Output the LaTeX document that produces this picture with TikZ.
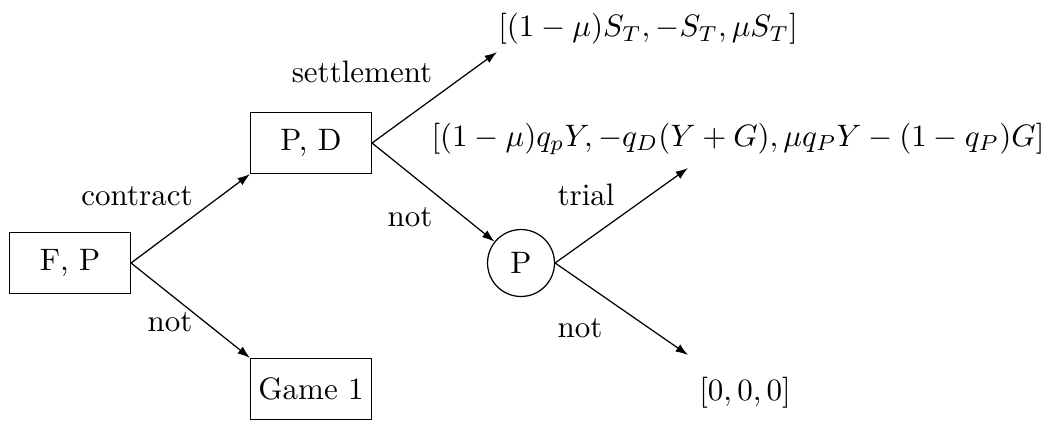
\documentclass[tikz,border=0pt]{standalone}
\usetikzlibrary{arrows.meta}
\begin{document}
\begin{tikzpicture}[x=0.3226pt,y=-0.3226pt,
  box/.style={draw,thin,minimum width=39pt,minimum height=19.7pt,inner sep=0pt},
  chance/.style={draw,thin,circle,minimum size=21.6pt,inner sep=0pt},
  lbl/.style={inner sep=0pt},
  arr/.style={thin,-{Latex[length=4pt,width=2.8pt]}}]
\useasboundingbox (0,0) rectangle (1049,421);
\node[box] (fp) at (70,263) {F, P};
\node[box] (pd) at (311,143) {P, D};
\node[box] (g1) at (311,389) {Game 1};
\node[chance] (p) at (521,263) {P};
\node[lbl] (pay1) at (648,29) {$[(1-\mu)S_T, -S_T, \mu S_T]$};
\node[lbl] (pay2) at (738,139) {$[(1-\mu)q_pY, -q_D(Y+G), \mu q_P Y-(1-q_P)G]$};
\node[lbl] (pay3) at (745,393) {$[0,0,0]$};
\coordinate (e1) at (497,52);
\coordinate (e2) at (688,168);
\coordinate (e3) at (688,355);
\draw[arr] (fp.east) -- (pd.south west);
\draw[arr] (fp.east) -- (g1.north west);
\draw[arr] (pd.east) -- (e1);
\draw[arr] (pd.east) -- (p);
\draw[arr] (p.east) -- (e2);
\draw[arr] (p.east) -- (e3);
\node[lbl] (l1) at (137,196) {contract};
\node[lbl] (l2) at (170,322) {not};
\node[lbl] (l3) at (362,72) {settlement};
\node[lbl] (l4) at (410,217) {not};
\node[lbl] (l5) at (586,195) {trial};
\node[lbl] (l6) at (580,328) {not};
\end{tikzpicture}
\end{document}
